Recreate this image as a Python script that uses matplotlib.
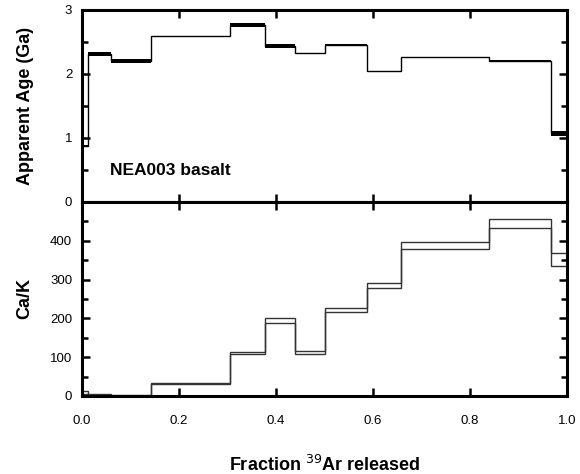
import matplotlib.pyplot as plt
import numpy as np
from matplotlib.ticker import MultipleLocator

plt.rcParams['font.family'] = ['Liberation Sans', 'DejaVu Sans']

# step boundaries (fraction 39Ar released)
edges = [0.0, 0.013, 0.06, 0.1416, 0.305, 0.377, 0.44, 0.502, 0.587, 0.658, 0.840, 0.966, 1.0]

# apparent age (Ga) and 1-sigma error
age = [0.88, 2.315, 2.20, 2.59, 2.76, 2.44, 2.32, 2.46, 2.04, 2.26, 2.20, 1.07]
age_err = [0.01, 0.035, 0.03, 0.008, 0.03, 0.03, 0.01, 0.01, 0.01, 0.01, 0.018, 0.04]

# Ca/K upper and lower bounds
cak_hi = [12, 6, 3, 33, 114, 200, 115, 226, 291, 396, 456, 368]
cak_lo = [5, 3, 1, 30, 108, 189, 108, 216, 278, 379, 434, 334]

fig = plt.figure(figsize=(5.8, 4.74), dpi=100)
ax1 = fig.add_axes([0.1414, 0.574, 0.8362, 0.405])
ax2 = fig.add_axes([0.1414, 0.1646, 0.8362, 0.4094])

age = np.array(age)
age_err = np.array(age_err)
ax1.stairs(age + age_err, edges, baseline=age - age_err, fill=True, color='black', lw=0)
ax1.stairs(age, edges, baseline=None, color='black', lw=1.0)
ax1.set_xlim(0, 1)
ax1.set_ylim(0, 3)
ax1.yaxis.set_major_locator(MultipleLocator(1))
ax1.yaxis.set_minor_locator(MultipleLocator(0.5))
ax1.xaxis.set_major_locator(MultipleLocator(0.2))
ax1.set_xticklabels([])
ax1.set_ylabel('Apparent Age (Ga)', fontsize=13, fontweight='bold', labelpad=22)
ax1.text(0.058, 0.42, 'NEA003 basalt', fontsize=12.5, fontweight='bold')

ax2.stairs(cak_hi, edges, baseline=None, color='#333333', lw=1.0)
ax2.stairs(cak_lo, edges, baseline=None, color='#333333', lw=1.0)
ax2.set_xlim(0, 1)
ax2.set_ylim(0, 500)
ax2.yaxis.set_major_locator(MultipleLocator(100))
ax2.yaxis.set_minor_locator(MultipleLocator(50))
ax2.xaxis.set_major_locator(MultipleLocator(0.2))
ax2.set_yticks([0, 100, 200, 300, 400])
ax2.xaxis.set_major_formatter(plt.FuncFormatter(lambda v, p: '%.1f' % v))
ax2.set_ylabel('Ca/K', fontsize=13, fontweight='bold', labelpad=12)
ax2.set_xlabel('Fraction $^{39}$Ar released', fontsize=13, fontweight='bold', labelpad=20)

for ax in (ax1, ax2):
    for s in ax.spines.values():
        s.set_linewidth(2.2)
    ax.tick_params(which='both', direction='in', top=True, right=True, width=1.8, labelsize=9.5, pad=7)
    ax.tick_params(which='major', length=6)
    ax.tick_params(which='minor', length=4)
ax2.tick_params(axis='x', pad=14)

fig.savefig('out.png', dpi=100)
